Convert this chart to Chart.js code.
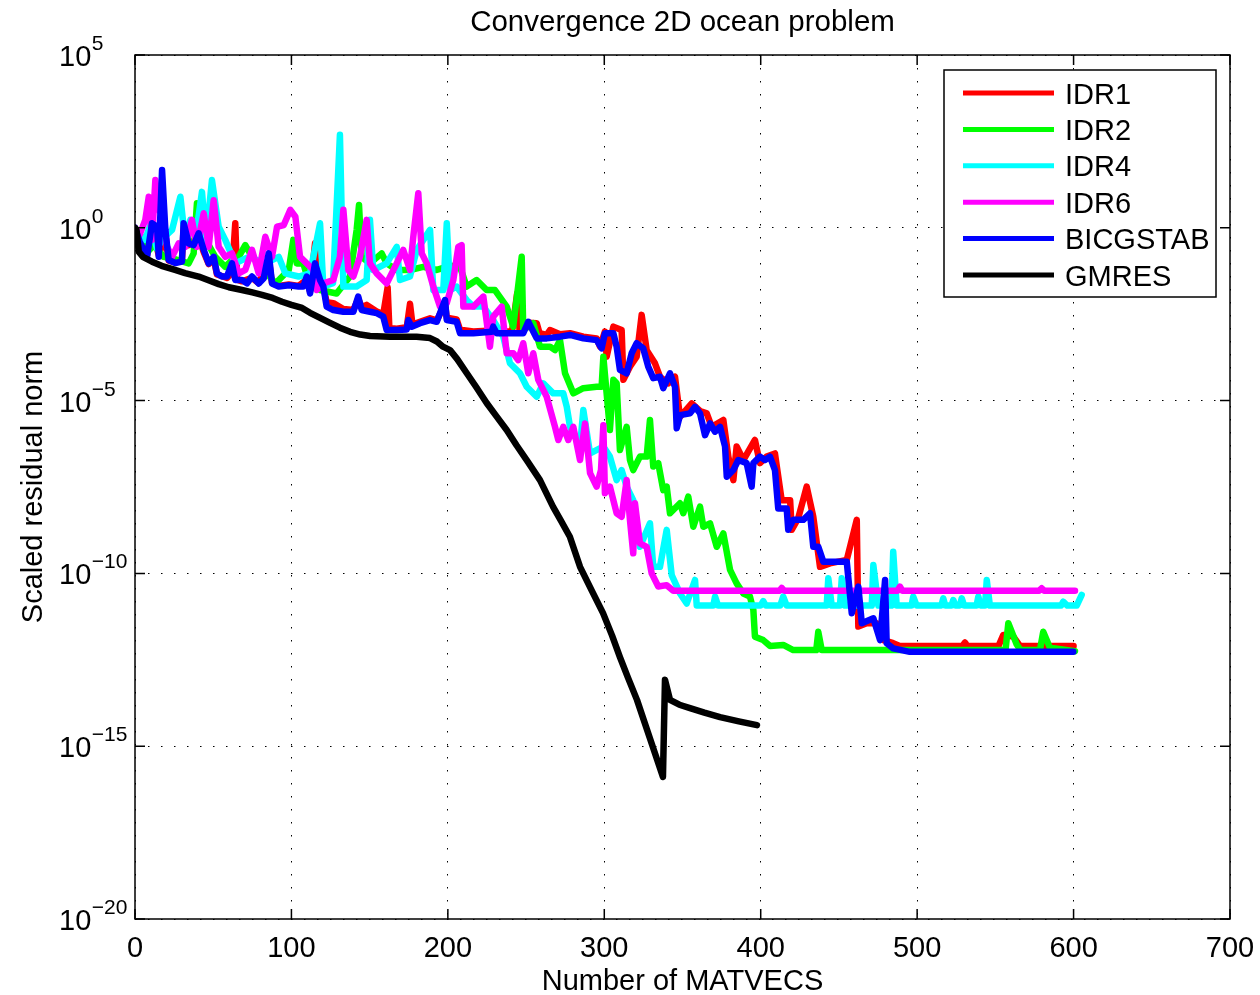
<!DOCTYPE html>
<html>
<head>
<meta charset="utf-8">
<title>Convergence 2D ocean problem</title>
<script src="https://cdn.jsdelivr.net/npm/chart.js@4.4.1/dist/chart.umd.min.js"></script>
<style>
  html, body { margin: 0; padding: 0; background: #fff; }
  #wrap { width: 1260px; height: 995px; }
</style>
</head>
<body>
<div id="wrap"><canvas id="convChart" width="1260" height="995"></canvas></div>
<script>
// [MATVECS, log10(scaled residual norm)]
const idr1Log = [[0,0],[7.7,-0.8],[10.9,0.05],[15.2,-0.8],[19.4,-0.2],[21.5,-0.95],[25.8,-1.0],[30,-0.95],[31.1,0.05],[34.3,-0.5],[40.7,-0.25],[43.9,-0.7],[47.1,-1.05],[50.3,-0.9],[52.4,-1.35],[58.8,-1.45],[62,-1.3],[64.1,0.13],[65.3,-1.5],[68.4,-1.55],[74.8,-1.45],[79.1,-1.6],[85.5,-0.9],[87.6,-1.6],[91.9,-1.68],[98.3,-1.64],[104.6,-1.68],[109.8,-1.5],[111.9,-1.85],[115.1,-0.45],[116.2,-1.6],[120.4,-1.7],[122.5,-2.15],[126.8,-2.18],[133.2,-2.35],[139.6,-2.38],[142.7,-2.05],[144.9,-2.3],[148.1,-2.23],[154.5,-2.42],[158.7,-2.5],[161.5,-1.72],[162.6,-2.9],[167.3,-2.92],[173.7,-2.88],[175.8,-2.2],[177.4,-2.8],[182.2,-2.72],[188.6,-2.62],[192.9,-2.68],[198.2,-2.2],[199.3,-2.6],[205.6,-2.65],[207.8,-2.95],[216.3,-3.0],[228,-2.97],[231.2,-3.0],[241,-3.0],[244.3,-1.9],[245.8,-2.95],[250,-2.9],[251.4,-2.75],[256.8,-2.76],[258.6,-3.05],[263.2,-3.1],[265.3,-2.96],[271.7,-3.08],[278.1,-3.05],[286.6,-3.15],[295.1,-3.2],[297.3,-3.44],[300.4,-3.0],[301.5,-3.73],[305.8,-2.86],[311.1,-2.96],[312.2,-4.4],[316.4,-4.02],[320.7,-3.73],[323.9,-2.52],[327.1,-3.54],[332.4,-3.92],[335.6,-4.31],[340.9,-4.5],[345.2,-4.31],[348.4,-5.47],[355.9,-5.08],[361.2,-5.3],[365.5,-5.37],[368.7,-5.76],[376.1,-5.56],[379.3,-6.62],[382.5,-7.3],[384.6,-6.33],[388.9,-6.72],[396.3,-6.14],[399.5,-6.81],[403.8,-6.62],[409.1,-6.53],[413.4,-7.88],[418.8,-7.88],[419.8,-8.74],[424,-8.4],[429.4,-7.49],[433.6,-8.36],[437.9,-9.81],[444.3,-9.71],[455,-9.61],[461.4,-8.45],[462.4,-11.54],[467.7,-11.44],[474.1,-11.44],[478.4,-11.93],[484.7,-12.02],[488.9,-12.1],[529,-12.1],[530.6,-12.0],[532,-12.1],[552,-12.1],[555.1,-11.78],[561.5,-11.83],[565.7,-12.1],[600,-12.1]];

const idr2Log = [[0,0],[4,-0.3],[8,-0.7],[12,-0.5],[18.3,-0.84],[25,-0.9],[34.3,-1.03],[37.5,-0.74],[39.6,0.71],[41.7,-0.06],[51.3,-0.84],[57.7,-1.13],[62,-0.93],[66.3,-0.84],[70.5,-0.5],[74.8,-0.84],[79.1,-1.03],[89.7,-1.61],[98.3,-1.22],[101.2,-0.35],[103.4,-1.03],[107.6,-1.03],[111.9,-1.7],[118.3,-1.8],[128.9,-1.9],[137.4,-1.41],[141.7,-0.06],[143.2,0.66],[144.9,-0.84],[150.2,-1.03],[157.7,-0.74],[160.9,-1.03],[167.3,-1.22],[175.8,-1.22],[184.3,-1.13],[192.9,-1.22],[199.3,-1.13],[205.6,-1.08],[207.8,-1.13],[212,-1.7],[218.4,-1.51],[224.8,-1.8],[230.1,-1.8],[237.6,-2.28],[241.8,-2.86],[247.2,-0.84],[248.2,-2.96],[254.6,-2.76],[258.9,-3.44],[265.3,-3.44],[268.5,-3.54],[271.7,-3.25],[274.9,-4.21],[280.2,-4.79],[286.6,-4.64],[295.1,-4.6],[298.3,-4.6],[299.4,-3.73],[303.6,-5.85],[305.8,-4.4],[307.9,-4.5],[310,-6.43],[314.3,-5.76],[316.4,-6.72],[318.5,-7.01],[322.8,-6.62],[327.1,-6.62],[329.2,-5.56],[331.3,-6.91],[334.5,-6.81],[337.7,-7.59],[339.9,-7.49],[342,-8.26],[348.4,-7.97],[350.5,-8.26],[353.7,-7.78],[356.9,-8.65],[361.2,-8.07],[363.3,-8.65],[367.6,-8.55],[371.9,-9.23],[376.1,-8.84],[380.4,-9.9],[384.6,-10.29],[388.9,-10.58],[393.1,-10.67],[395.3,-11.06],[396.3,-11.83],[401.6,-11.93],[406,-12.1],[414.4,-12.07],[420.8,-12.22],[435.5,-12.22],[436.8,-11.69],[439,-12.22],[556.5,-12.22],[558.3,-11.44],[563.6,-12.05],[566,-12.22],[578.5,-12.22],[580.6,-11.69],[584.9,-12.15],[600.9,-12.25]];

const idr4Log = [[0,0],[3,-0.2],[6.4,-0.35],[10,0.1],[14,-0.6],[18,-0.3],[23.7,-0.06],[29,0.9],[32,-0.35],[35.4,0.23],[39,-0.21],[42.8,1.04],[45.4,-0.35],[49.2,1.38],[53.5,0.03],[57.7,-0.35],[64.1,-1.03],[72.7,-0.84],[83.3,-1.03],[91.9,-0.84],[96.1,-1.32],[104.6,-1.41],[111.9,-1.32],[118.3,0.13],[120.4,-1.7],[126.6,-1.6],[131,2.69],[133.2,-1.7],[141.7,-1.7],[148.1,-1.51],[150.2,0.23],[152.3,-1.22],[160.9,-1.03],[167.3,-0.55],[169.4,-1.51],[175.8,-1.41],[180.1,-0.64],[188.6,-0.06],[190.7,-1.8],[197.1,-1.8],[199.3,0.13],[201.4,-1.8],[205.6,-1.7],[212,-2.09],[216.3,-2.28],[222.7,-2.28],[229,-2.67],[235.4,-3.15],[239.7,-3.92],[246.1,-4.21],[250.4,-4.6],[256.8,-4.89],[261,-4.5],[267.4,-4.79],[273.8,-4.79],[276,-5.18],[278.1,-5.76],[284.5,-6.33],[286.6,-5.27],[290.9,-6.53],[299.4,-6.33],[303.6,-6.62],[307.9,-7.3],[311.1,-7.01],[314.3,-7.49],[318.5,-7.88],[322.8,-9.23],[329.2,-8.55],[331.3,-9.81],[335.6,-9.81],[339.9,-8.74],[343.1,-10.05],[348.4,-10.58],[352.7,-10.87],[358,-10.19],[359.1,-10.93],[369.7,-10.93],[370.8,-10.67],[372.7,-10.93],[400,-10.93],[401.6,-10.8],[403.2,-10.93],[412.5,-10.93],[414.4,-10.67],[416.6,-10.93],[442.2,-10.93],[443.2,-10.14],[445.4,-10.93],[450.7,-10.93],[451.8,-10.14],[453.9,-10.93],[471,-10.93],[472,-9.76],[475.2,-10.93],[483.6,-10.93],[484.7,-9.37],[486.9,-10.93],[496.4,-10.93],[497.5,-10.67],[499.7,-10.93],[515.5,-10.93],[516.7,-10.72],[518,-10.93],[522,-10.93],[523.1,-10.77],[524.5,-10.93],[527.3,-10.93],[528.5,-10.72],[530,-10.93],[538,-10.93],[539.1,-10.67],[540.5,-10.93],[543.4,-10.93],[544.5,-10.19],[546.5,-10.93],[592,-10.93],[593.4,-10.82],[596,-10.93],[602,-10.93],[605.2,-10.62]];

const idr6Log = [[0,0],[3,-0.2],[6.6,0.23],[8.8,0.9],[10.9,-0.35],[13,1.38],[15.2,0.52],[18.3,0.32],[20.5,-0.55],[23.7,-0.84],[27.9,-0.45],[32.2,-0.55],[36.4,0.23],[39.6,-0.55],[43.9,0.42],[47.1,-0.55],[50.3,0.8],[53.5,-0.55],[57.7,-0.84],[62,-0.74],[66.3,-1.32],[70.5,-1.22],[74.8,-0.64],[79.1,-1.32],[83.3,-0.26],[87.6,-0.84],[90.8,0.03],[95.1,0.08],[99.3,0.52],[102.5,0.32],[105.5,-0.84],[109.8,-1.03],[114,-1.22],[116.2,-1.8],[120.4,-1.61],[126.8,-1.51],[131,-0.84],[133.2,0.52],[136.4,-1.22],[139.6,-1.41],[143.8,-0.84],[148.1,0.23],[150.2,-1.03],[154.5,-1.32],[160.9,-1.61],[167.3,-1.03],[171.5,-0.64],[175.8,-1.22],[177.9,-0.26],[181.1,1.0],[183.3,-0.74],[186.5,-1.03],[190.7,-1.7],[195,-2.28],[199.3,-2.18],[203.5,-1.51],[206.7,-0.55],[208.8,-0.5],[209.9,-2.28],[216.3,-2.28],[222.7,-1.99],[226.9,-3.44],[229,-2.57],[234.4,-2.28],[237.6,-3.63],[241.8,-3.63],[245,-3.83],[248.2,-3.34],[251.4,-4.21],[254.6,-3.63],[257.8,-4.4],[263.2,-4.89],[268.5,-5.76],[270.6,-6.14],[273.8,-5.76],[277,-6.14],[280.2,-5.76],[284.5,-6.72],[287.7,-5.66],[290.9,-7.1],[295.1,-7.49],[297.9,-7.01],[299.4,-5.71],[300.4,-7.68],[303.6,-7.49],[307.9,-8.26],[311.1,-8.36],[314.3,-7.3],[316.4,-8.45],[318.5,-9.42],[319.6,-7.97],[322.8,-9.13],[327.1,-9.23],[330.3,-10.0],[334.5,-10.38],[339.9,-10.34],[344.1,-10.5],[412,-10.5],[413.4,-10.42],[415,-10.5],[487.5,-10.5],[489,-10.38],[490.5,-10.5],[578,-10.5],[579.6,-10.43],[581.2,-10.5],[600.9,-10.5]];

const bicgstabLog = [[0,0],[3,-0.4],[7.7,-0.84],[10.9,0.13],[14.1,0.03],[15.2,-0.84],[17.3,1.67],[19.4,-0.06],[21.5,-0.93],[25.8,-1.02],[30,-0.98],[31.1,0.13],[34.3,-0.45],[37.5,-0.5],[40.7,-0.16],[43.9,-0.64],[47.1,-1.03],[50.3,-0.84],[52.4,-1.32],[55.6,-1.41],[58.8,-1.41],[62,-1.03],[64.1,-1.51],[68.4,-1.51],[71.6,-1.61],[74.8,-1.41],[79.1,-1.61],[82.3,-1.46],[85.5,-0.74],[87.6,-1.61],[91.9,-1.7],[98.3,-1.66],[104.6,-1.7],[107.6,-1.7],[109.8,-1.41],[111.9,-1.9],[115.1,-1.03],[118.3,-1.51],[120.4,-1.7],[122.5,-2.28],[126.8,-2.38],[133.2,-2.43],[139.6,-2.43],[142.7,-1.99],[144.9,-2.38],[150.2,-2.43],[154.5,-2.47],[158.7,-2.57],[160.9,-2.96],[167.3,-2.96],[173.7,-2.94],[174.7,-2.67],[176.9,-2.86],[182.2,-2.76],[188.6,-2.67],[192.9,-2.72],[198.2,-2.09],[199.3,-2.67],[205.6,-2.72],[207.8,-3.05],[216.3,-3.05],[228,-3.01],[229,-2.86],[231.2,-3.05],[248.2,-3.05],[251.4,-2.72],[256.8,-3.2],[263.2,-3.2],[271.7,-3.15],[278.1,-3.1],[286.6,-3.2],[295.1,-3.25],[298.3,-3.49],[300.4,-3.05],[305.8,-3.05],[307.9,-3.44],[310,-4.11],[314.3,-4.21],[317.5,-3.63],[320.7,-3.34],[324.9,-3.49],[328.1,-4.02],[331.3,-4.35],[335.6,-4.31],[337.7,-4.64],[342,-4.21],[345.2,-4.6],[346.3,-5.8],[348.4,-5.42],[354.8,-5.37],[358,-5.18],[361.2,-5.37],[364.4,-6.0],[367.6,-5.66],[370.8,-5.9],[374,-5.76],[377.2,-6.33],[378.3,-7.2],[382.5,-7.01],[385.7,-6.72],[391,-6.81],[394.2,-7.49],[395.3,-6.81],[399.5,-6.62],[402.7,-6.72],[405.9,-6.62],[409.1,-7.01],[411.2,-8.12],[416.6,-8.12],[417.6,-8.74],[420.8,-8.45],[427.2,-8.45],[431.5,-8.26],[433.6,-9.23],[436.8,-9.23],[440,-9.66],[455,-9.66],[458.2,-11.15],[462.4,-10.38],[464.6,-11.44],[472,-11.3],[476.3,-11.93],[479.5,-10.19],[480.5,-12.02],[484.7,-12.17],[495.3,-12.27],[599.8,-12.27]];

const gmresLog = [[0,0],[1,-0.07],[2.4,-0.69],[5,-0.84],[10.9,-0.98],[17,-1.1],[25.6,-1.22],[32,-1.31],[40.7,-1.41],[47,-1.52],[53.5,-1.63],[60,-1.72],[68.4,-1.8],[75,-1.87],[81.2,-1.94],[88,-2.03],[94,-2.14],[100,-2.23],[106.8,-2.32],[111.9,-2.46],[118,-2.6],[124.7,-2.75],[131,-2.89],[137.5,-3.01],[144,-3.09],[150.3,-3.13],[163,-3.15],[180,-3.15],[188.6,-3.19],[193,-3.29],[196.9,-3.44],[201.4,-3.54],[206,-3.8],[212,-4.2],[218,-4.6],[224.8,-5.07],[231,-5.45],[237.6,-5.85],[244,-6.3],[250.4,-6.72],[258.9,-7.3],[267.2,-8.07],[272,-8.45],[278,-8.94],[284.5,-9.81],[292,-10.5],[299.2,-11.15],[305,-11.8],[310,-12.42],[315,-13.0],[320.9,-13.66],[329,-14.75],[337.5,-15.89],[338.8,-13.08],[342,-13.66],[348,-13.8],[354.8,-13.9],[364,-14.03],[374,-14.16],[386,-14.28],[397.6,-14.39]];

const seriesNames = ['IDR1', 'IDR2', 'IDR4', 'IDR6', 'BICGSTAB', 'GMRES'];
const seriesColors = ['#ff0000', '#00ff00', '#00ffff', '#ff00ff', '#0000ff', '#000000'];
const seriesData = [idr1Log, idr2Log, idr4Log, idr6Log, bicgstabLog, gmresLog];

const xTickValues = [0, 100, 200, 300, 400, 500, 600, 700];
const yTickExps = [5, 0, -5, -10, -15, -20];

const titleText = 'Convergence 2D ocean problem';
const xTitleText = 'Number of MATVECS';
const yTitleText = 'Scaled residual norm';

const FONT = '"Liberation Sans", Arial, Helvetica, sans-serif';

// axes box, inward ticks, labels, title and legend (MATLAB look)
const matlabFrame = {
  id: 'matlabFrame',
  afterDraw(chart) {
    const ctx = chart.ctx;
    const { left, right, top, bottom } = chart.chartArea;
    const xs = chart.scales.x;
    const ys = chart.scales.y;
    ctx.save();

    ctx.strokeStyle = '#000';
    ctx.lineWidth = 1.5;
    ctx.strokeRect(left, top, right - left, bottom - top);

    ctx.beginPath();
    xTickValues.forEach(v => {
      const px = xs.getPixelForValue(v);
      ctx.moveTo(px, bottom); ctx.lineTo(px, bottom - 10);
      ctx.moveTo(px, top); ctx.lineTo(px, top + 10);
    });
    yTickExps.forEach(e => {
      const py = ys.getPixelForValue(Math.pow(10, e));
      ctx.moveTo(left, py); ctx.lineTo(left + 10, py);
      ctx.moveTo(right, py); ctx.lineTo(right - 10, py);
    });
    ctx.stroke();

    ctx.fillStyle = '#000';
    ctx.textBaseline = 'alphabetic';

    // x tick labels
    ctx.font = '29px ' + FONT;
    ctx.textAlign = 'center';
    xTickValues.forEach(v => {
      ctx.fillText(String(v), xs.getPixelForValue(v), 957);
    });

    // y tick labels 10^e
    ctx.textAlign = 'left';
    yTickExps.forEach(e => {
      const py = ys.getPixelForValue(Math.pow(10, e));
      ctx.font = '29px ' + FONT;
      ctx.fillText('10', 59, py + 11);
      const w = ctx.measureText('10').width;
      ctx.font = '21px ' + FONT;
      const ex = e < 0 ? '\u2212' + String(-e) : String(e);
      ctx.fillText(ex, 59 + w + 0.5, py - 5);
    });

    // titles
    ctx.font = '29.5px ' + FONT;
    ctx.textAlign = 'center';
    ctx.fillText(titleText, (left + right) / 2, 31);
    ctx.font = '29px ' + FONT;
    ctx.fillText(xTitleText, (left + right) / 2, 990);
    ctx.save();
    ctx.translate(42, (top + bottom) / 2);
    ctx.rotate(-Math.PI / 2);
    ctx.fillText(yTitleText, 0, 0);
    ctx.restore();

    // legend
    const bx = 944, by = 70, bw = 272, bh = 227;
    ctx.fillStyle = '#fff';
    ctx.fillRect(bx, by, bw, bh);
    ctx.strokeStyle = '#000';
    ctx.lineWidth = 1.5;
    ctx.strokeRect(bx, by, bw, bh);
    ctx.font = '29px ' + FONT;
    ctx.textAlign = 'left';
    seriesNames.forEach((name, i) => {
      const ly = 93 + i * 36.4;
      ctx.strokeStyle = seriesColors[i];
      ctx.lineWidth = 5;
      ctx.beginPath();
      ctx.moveTo(963, ly);
      ctx.lineTo(1054, ly);
      ctx.stroke();
      ctx.fillStyle = '#000';
      ctx.fillText(name, 1065, ly + 10.5);
    });

    ctx.restore();
  }
};

const datasets = seriesNames.map((name, i) => ({
  label: name,
  data: seriesData[i].map(p => ({ x: p[0], y: Math.pow(10, p[1]) })),
  borderColor: seriesColors[i],
  backgroundColor: seriesColors[i],
  borderWidth: 6.5,
  borderJoinStyle: 'round',
  borderCapStyle: 'round',
  pointRadius: 0,
  tension: 0,
  fill: false,
  order: seriesNames.length - 1 - i
}));

const ctx = document.getElementById('convChart').getContext('2d');
new Chart(ctx, {
  type: 'line',
  data: { datasets },
  options: {
    responsive: false,
    animation: false,
    layout: { padding: { top: 55, right: 30, left: 0, bottom: 0 } },
    plugins: {
      legend: { display: false },
      title: { display: false },
      tooltip: { enabled: false }
    },
    scales: {
      x: {
        type: 'linear',
        min: 0,
        max: 700,
        afterBuildTicks: s => { s.ticks = xTickValues.map(v => ({ value: v })); },
        afterFit: s => { s.height = 76; },
        ticks: { display: false },
        grid: { color: '#000', lineWidth: 1, drawTicks: false },
        border: { display: false, dash: [1.5, 11.5] }
      },
      y: {
        type: 'logarithmic',
        min: 1e-20,
        max: 1e5,
        afterBuildTicks: s => { s.ticks = yTickExps.map(e => ({ value: Math.pow(10, e) })); },
        afterFit: s => { s.width = 135; },
        ticks: { display: false },
        grid: { color: '#000', lineWidth: 1, drawTicks: false },
        border: { display: false, dash: [1.5, 11.5] }
      }
    }
  },
  plugins: [matlabFrame]
});
</script>
</body>
</html>
